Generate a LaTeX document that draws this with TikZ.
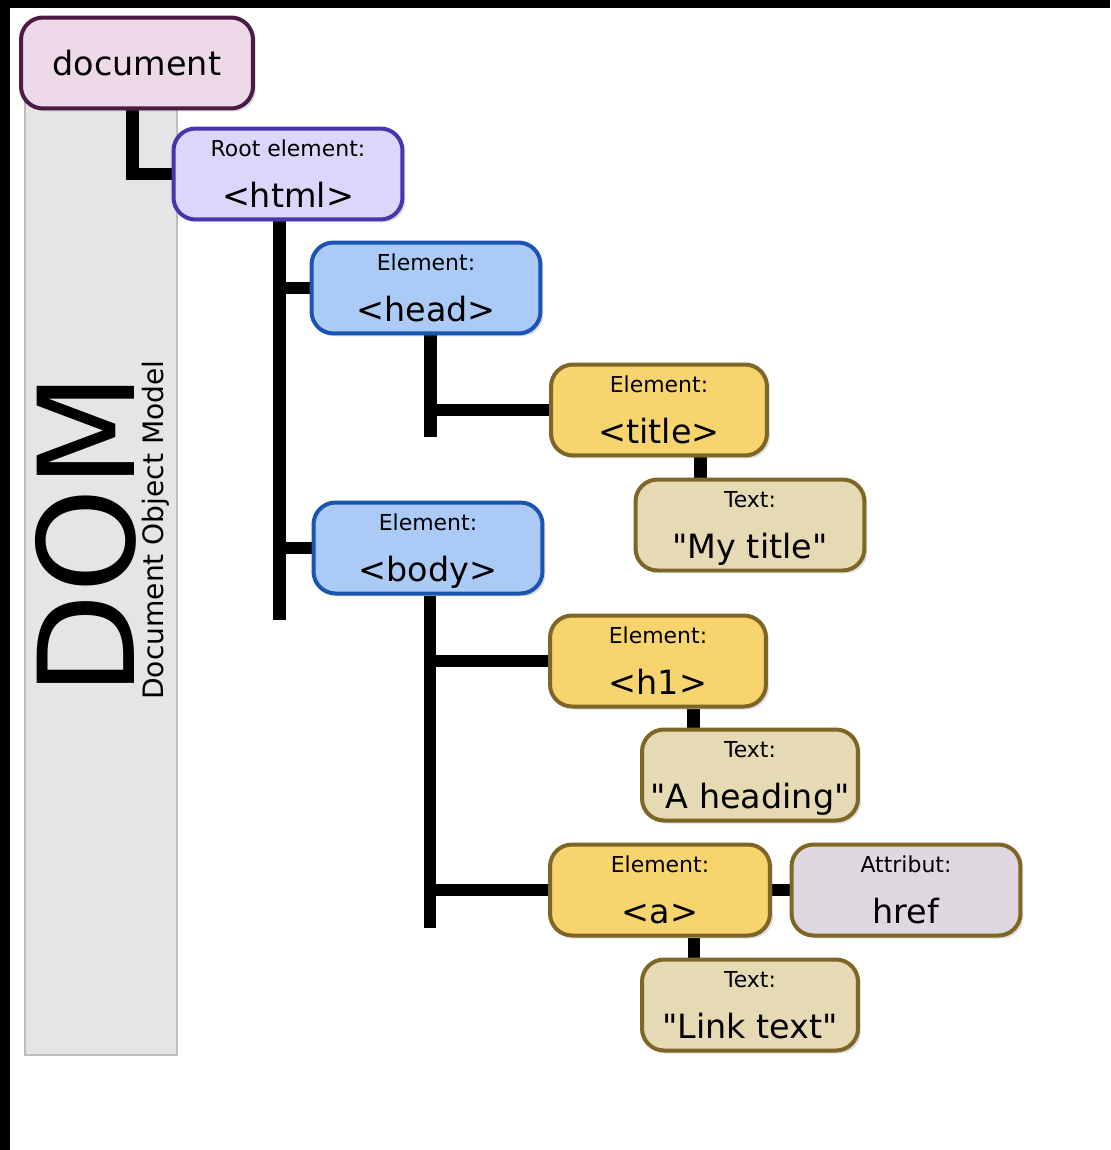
\documentclass[tikz,border=0pt]{standalone}
\usepackage{fontspec}
\setmainfont{DejaVu Sans}[Ligatures=TeXOff]
\usepackage{tikz}
\usetikzlibrary{shadows,backgrounds}

\definecolor{docfill}{HTML}{EED9E9}
\definecolor{docline}{HTML}{4A1B45}
\definecolor{rootfill}{HTML}{DCD6FB}
\definecolor{rootline}{HTML}{4935AA}
\definecolor{blockfill}{HTML}{ACCAF6}
\definecolor{blockline}{HTML}{1A55B2}
\definecolor{leaffill}{HTML}{F8D46E}
\definecolor{leafline}{HTML}{7E6627}
\definecolor{textfill}{HTML}{E6DAB4}
\definecolor{attrfill}{HTML}{DFD8E0}
\definecolor{panelfill}{HTML}{E5E5E5}
\definecolor{panelline}{HTML}{BDBDBD}

\begin{document}
\begin{tikzpicture}[x=0.02cm, y=-0.02cm,
	box/.style={draw, rounded corners=0.44cm, line width=0.08cm, inner sep=0pt,
		minimum height=1.82cm, font=\fontsize{19}{22}\selectfont,
		drop shadow={shadow xshift=0.06cm, shadow yshift=-0.06cm, opacity=0.25}},
	elem/.style={box, text height=37.6pt, text depth=0pt},
	tag/.style={font=\fontsize{12.5}{14}\selectfont, inner sep=0pt, text height=8.5pt,
		text depth=0pt, anchor=base, yshift=-0.6cm},
	wire/.style={line width=0.25cm},
	docbox/.style={box, fill=docfill, draw=docline},
	rootbox/.style={elem, fill=rootfill, draw=rootline},
	blockbox/.style={elem, fill=blockfill, draw=blockline},
	leafbox/.style={elem, fill=leaffill, draw=leafline},
	textbox/.style={elem, fill=textfill, draw=leafline},
	attrbox/.style={elem, fill=attrfill, draw=leafline}]
	\useasboundingbox (0,0) rectangle (1110,1150);

	\node[docbox, minimum width=4.64cm] (document) at (137,63) {document};
	\node[rootbox, minimum width=4.58cm, label={[tag]90:{Root element:}}] (html) at (288,174) {<html>};
	\node[blockbox, minimum width=4.58cm, label={[tag]90:{Element:}}] (head) at (426,288) {<head>};
	\node[leafbox, minimum width=4.32cm, label={[tag]90:{Element:}}] (title) at (659,410) {<title>};
	\node[textbox, minimum width=4.58cm, label={[tag]90:{Text:}}] (mytitle) at (750,525) {"My title"};
	\node[blockbox, minimum width=4.58cm, label={[tag]90:{Element:}}] (body) at (428,548) {<body>};
	\node[leafbox, minimum width=4.32cm, label={[tag]90:{Element:}}] (h1) at (658,661) {<h1>};
	\node[textbox, minimum width=4.32cm, label={[tag]90:{Text:}}] (heading) at (750,775) {"A heading"};
	\node[leafbox, minimum width=4.4cm, label={[tag]90:{Element:}}] (a) at (660,890) {<a>};
	\node[attrbox, minimum width=4.58cm, label={[tag]90:{Attribut:}}] (href) at (906,890) {href};
	\node[textbox, minimum width=4.32cm, label={[tag]90:{Text:}}] (link) at (750,1005) {"Link text"};

	\begin{scope}[on background layer]
		\fill[white] (0,0) rectangle (1110,1150);
		\fill[black] (0,0) rectangle (10,1150);
		\fill[black] (0,0) rectangle (1110,8);
		% side panel
		\draw[fill=panelfill, draw=panelline, line width=0.03cm] (25,60) rectangle (177,1055);
		\node[rotate=90, anchor=base, inner sep=0pt, font=\fontsize{76}{80}\selectfont] (dom) at (134,535) {DOM};
		\node[rotate=90, anchor=base, inner sep=0pt, font=\fontsize{16}{18}\selectfont] (dommodel) at (163.5,530) {Document Object Model};
		% tree lines
		\coordinate (htmlend) at (279.5,620);
		\coordinate (headend) at (430.5,437);
		\coordinate (bodyend) at (430,928);
		\draw[wire] ([xshift=-0.09cm]document.south) |- (html.west);
		\draw[wire] (htmlend |- html.south) -- (htmlend);
		\draw[wire] (htmlend |- head.west) -- (head.west);
		\draw[wire] (htmlend |- body.west) -- (body.west);
		\draw[wire] (headend |- head.south) -- (headend);
		\draw[wire] (headend |- title.west) -- (title.west);
		\draw[wire] ([xshift=0.83cm]title.south) -- ([xshift=0.83cm]title.south |- mytitle.north);
		\draw[wire] (bodyend |- body.south) -- (bodyend);
		\draw[wire] (bodyend |- h1.west) -- (h1.west);
		\draw[wire] (bodyend |- a.west) -- (a.west);
		\draw[wire] ([xshift=0.71cm]h1.south) -- ([xshift=0.71cm]h1.south |- heading.north);
		\draw[wire] (a.east) -- (href.west);
		\draw[wire] ([xshift=0.68cm]a.south) -- ([xshift=0.68cm]a.south |- link.north);
	\end{scope}
\end{tikzpicture}
\end{document}
